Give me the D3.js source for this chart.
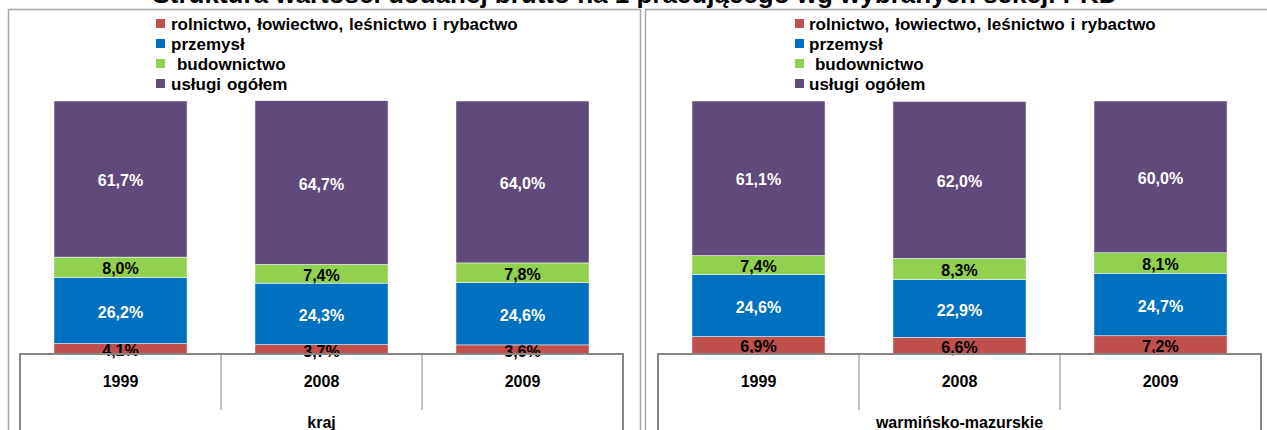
<!DOCTYPE html>
<html>
<head>
<meta charset="utf-8">
<script src="https://cdn.jsdelivr.net/npm/d3@7"></script>
<style>
  body { margin: 0; background: #fff; }
  svg { display: block; font-family: "Liberation Sans", Arial, sans-serif; font-weight: bold; }
</style>
</head>
<body>
<div id="chart"></div>
<script>
var svgWidth = 1267;
var svgHeight = 430;

// data
var title = "Struktura wartości dodanej brutto na 1 pracującego wg wybranych sekcji PKD";
var years = ["1999", "2008", "2009"];
var regions = ["kraj", "warmińsko-mazurskie"];
var sectors = ["rolnictwo, łowiectwo, leśnictwo i rybactwo", "przemysł", " budownictwo", "usługi ogółem"];
var sectorColors = ["#C0504D", "#0070C0", "#92D050", "#604A7B"];
var labelColors = ["#000", "#fff", "#000", "#fff"];

var rolnictwoKraj = [4.1, 3.7, 3.6];
var przemyslKraj = [26.2, 24.3, 24.6];
var budownictwoKraj = [8.0, 7.4, 7.8];
var uslugiKraj = [61.7, 64.7, 64.0];

var rolnictwoWM = [6.9, 6.6, 7.2];
var przemyslWM = [24.6, 22.9, 24.7];
var budownictwoWM = [7.4, 8.3, 8.1];
var uslugiWM = [61.1, 62.0, 60.0];

var panelSeries = [
  [rolnictwoKraj, przemyslKraj, budownictwoKraj, uslugiKraj],
  [rolnictwoWM, przemyslWM, budownictwoWM, uslugiWM]
];

// panel layout
var panels = [
  { frameX: 8, frameW: 633, boxL: 20, boxR: 623, legendX: 156, legendGap: 15 },
  { frameX: 645, frameW: 640, boxL: 658, boxR: 1261, legendX: 795, legendGap: 14 }
];
var frameTop = 10;
var plotTop = 101;
var plotBottom = 354;

var svg = d3.select("#chart")
  .append("svg")
  .attr("width", svgWidth)
  .attr("height", svgHeight);

var yScale = d3.scaleLinear().domain([0, 100]).range([plotBottom, plotTop]);
var fmt = function(v) { return v.toFixed(1).replace(".", ",") + "%"; };

panels.forEach(function(p, pi) {
  var g = svg.append("g");

  // outer frame
  g.append("rect")
    .attr("x", p.frameX + 0.5)
    .attr("y", frameTop - 0.5)
    .attr("width", p.frameW - 1)
    .attr("height", svgHeight + 20)
    .attr("fill", "none")
    .attr("stroke", "#a6a6a6")
    .attr("stroke-width", 1.5);

  // legend
  var legend = g.selectAll(".legend")
    .data(sectors)
    .enter()
    .append("g")
    .attr("transform", function(d, i) { return "translate(" + p.legendX + "," + (24 + i * 20) + ")"; });
  legend.append("rect")
    .attr("x", 0).attr("y", -5)
    .attr("width", 9).attr("height", 9)
    .attr("fill", function(d, i) { return sectorColors[i]; });
  legend.append("text")
    .attr("x", p.legendGap)
    .attr("y", 0)
    .attr("dy", "0.35em")
    .style("font-size", "17px")
    .style("word-spacing", "1.2px")
    .style("white-space", "pre")
    .attr("fill", "#000")
    .text(function(d) { return d; });

  var xScale = d3.scaleBand()
    .domain(years)
    .range([p.boxL, p.boxR])
    .paddingInner(0.338)
    .paddingOuter(0.169);

  var series = panelSeries[pi];
  var rows = years.map(function(y, j) {
    var row = { year: y };
    sectors.forEach(function(s, k) { row[k] = series[k][j]; });
    return row;
  });
  var stacked = d3.stack().keys([0, 1, 2, 3])(rows);

  var layers = g.selectAll(".layer")
    .data(stacked)
    .enter()
    .append("g")
    .attr("fill", function(d) { return sectorColors[d.key]; });

  layers.selectAll("rect")
    .data(function(d) { return d; })
    .enter()
    .append("rect")
    .attr("x", function(d) { return xScale(d.data.year); })
    .attr("width", xScale.bandwidth())
    .attr("y", function(d) { return yScale(d[1]); })
    .attr("height", function(d) { return yScale(d[0]) - yScale(d[1]); })
    .attr("stroke", "#fff")
    .attr("stroke-width", 0.5);

  layers.selectAll("text")
    .data(function(d) { return d.map(function(v) { v.key = d.key; return v; }); })
    .enter()
    .append("text")
    .attr("x", function(d) { return xScale(d.data.year) + xScale.bandwidth() / 2; })
    .attr("y", function(d) { return (yScale(d[0]) + yScale(d[1])) / 2; })
    .attr("dy", "0.45em")
    .attr("text-anchor", "middle")
    .style("font-size", "16px")
    .attr("fill", function(d) { return labelColors[d.key]; })
    .text(function(d) { return fmt(d[1] - d[0]); });

  // category box (axis)
  var axisG = g.append("g").attr("stroke", "#868686").attr("fill", "none");
  axisG.append("path")
    .attr("d", "M" + p.boxL + "," + (svgHeight + 10) + "V" + plotBottom + "H" + p.boxR + "V" + (svgHeight + 10))
    .attr("stroke-width", 2);
  var step = xScale.step();
  years.slice(1).forEach(function(y) {
    var bx = xScale(y) - step * 0.338 / 2;
    axisG.append("line")
      .attr("x1", bx).attr("x2", bx)
      .attr("y1", plotBottom).attr("y2", 410)
      .attr("stroke-width", 1);
  });

  g.selectAll(".year")
    .data(years)
    .enter()
    .append("text")
    .attr("x", function(d) { return xScale(d) + xScale.bandwidth() / 2; })
    .attr("y", 381)
    .attr("dy", "0.35em")
    .attr("text-anchor", "middle")
    .style("font-size", "16px")
    .text(function(d) { return d; });

  g.append("text")
    .attr("x", (p.boxL + p.boxR) / 2)
    .attr("y", 422)
    .attr("dy", "0.35em")
    .attr("text-anchor", "middle")
    .style("font-size", "16px")
    .text(regions[pi]);
});

// title, mostly cut off at the top as in the source
svg.append("text")
  .attr("x", 635)
  .attr("y", 3)
  .attr("text-anchor", "middle")
  .style("font-size", "26px")
  .text(title);
</script>
</body>
</html>
